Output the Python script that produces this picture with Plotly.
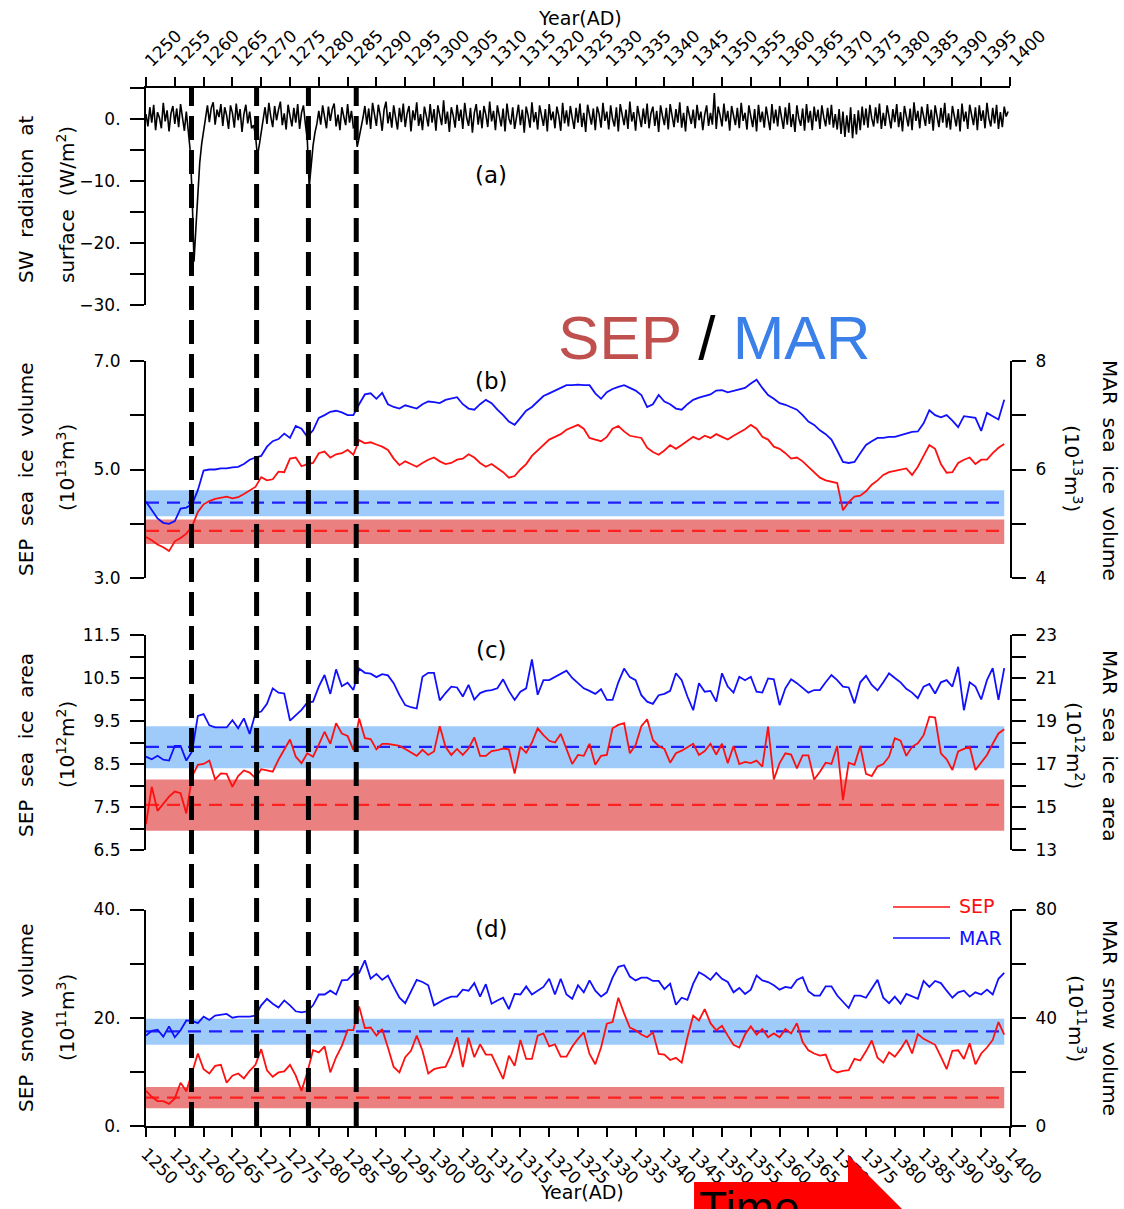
import plotly.graph_objects as go

# ---------------- data ----------------
YEARS = list(range(1250, 1400))

# (a) surface SW radiation anomaly, 3 samples per year starting 1250.0
SW = [
    0.8, -1.2, 1.9, -0.6, 2.3, -1.8, 1.1, 0.2, -1.5, 2.6, -0.4, 1.4, -2.0, 0.9, 2.1,
    -0.8, 1.7, -1.3, 2.4, 0.1, -1.9, 1.2, -2.5, -5.0, -12.0, -23.0, -17.5, -11.5, -7.0, -4.0,
    -1.8, 0.6, 2.2, -0.5, 1.8, 2.7, -0.9, 1.5, 0.3, 2.4, -1.1, 1.9, 0.6, -1.6, 2.2,
    1.0, -1.4, 2.5, -0.2, 1.6, -2.1, 0.8, 2.3, -0.7, 1.2, -1.5, -1.0, -2.5, -6.0, -4.2,
    -2.2, -0.4, 1.9, -0.8, 2.6, 0.4, -1.3, 2.1, -0.2, 1.5, 2.8, -1.0, 0.9, -1.7, 2.3,
    0.5, -1.2, 1.8, -0.6, 2.4, -1.6, 1.0, 2.2, -0.8, -3.2, -11.0, -7.2, -4.3, -2.2, -0.8,
    1.3, -0.9, 2.2, 0.1, -1.5, 2.0, -0.3, 1.6, 2.5, -1.2, 0.7, -1.8, 1.9, 0.4, -1.0,
    2.4, -0.6, 1.3, -1.4, -1.2, -4.5, -3.0, -1.6, 0.2, 2.1, -0.9, 1.7, -1.6, 2.6, 0.3,
    -1.1, 2.3, 0.6, -1.9, 1.5, 2.8, -0.7, 1.1, -1.4, 2.2, 0.2, -1.7, 1.8, -0.5, 2.5,
    -1.3, 0.9, 2.1, -2.0, 1.4, -0.2, 2.7, -1.1, 0.8, -1.8, 2.0, 0.5, -1.2, 2.4, -0.6,
    1.6, -1.9, 2.2, 0.3, -1.0, 3.0, -0.8, 1.2, -2.1, 1.9, 0.6, -1.4, 2.3, -0.3, 1.5,
    -1.6, 2.6, 0.2, -1.1, 1.8, -2.2, 1.0, 2.4, -0.9, 1.4, -1.5, 2.1, 0.7, -1.3, 2.8,
    -0.4, 1.3, -1.8, 2.2, 0.4, -1.2, 1.7, -2.0, 2.5, 0.1, -0.9, 1.9, -1.6, 0.8, 2.3,
    -1.0, 1.5, -2.2, 2.0, 0.6, -1.4, 2.7, -0.5, 1.1, -1.7, 2.2, 0.3, -1.1, 1.6, -2.0,
    2.4, -0.2, 1.2, -1.5, 2.0, 0.5, -1.9, 2.6, -0.7, 1.4, -1.2, 2.1, 0.2, -1.6, 1.8,
    -0.6, 2.5, -1.3, 1.0, -2.1, 2.3, 0.4, -0.9, 1.7, -1.8, 2.0, 0.8, -1.4, 2.6, -0.3,
    1.2, -1.7, 2.2, 0.0, -1.2, 1.9, -2.0, 2.4, 0.6, -1.0, 1.5, -1.6, 2.8, -0.4, 1.1,
    -1.9, 2.1, 0.3, -1.3, 1.7, -0.8, 2.5, -1.5, 0.9, 2.0, -1.1, 1.3, -2.1, 2.2, 0.5,
    -1.0, 1.8, -1.7, 2.4, 0.2, -1.3, 1.6, -0.6, 2.7, -1.4, 1.0, -2.0, 2.1, 0.4, -0.8,
    1.5, -1.5, 2.3, -0.2, 1.2, -1.8, 0.7, 2.2, -1.1, 1.0, -0.9, 4.2, -1.6, 2.0, 0.6,
    -1.2, 2.5, -0.4, 1.3, -1.9, 2.1, 0.3, -1.0, 1.8, -1.5, 2.6, -0.3, 1.0, -1.7, 2.2,
    0.5, -1.3, 1.6, -2.0, 2.3, -0.5, 1.2, -1.4, 2.0, 0.2, -1.8, 2.4, -0.7, 1.5, -1.2,
    2.1, 0.4, -1.6, 1.9, -0.9, 2.6, -1.3, 0.8, -2.1, 2.2, 0.1, -1.1, 1.7, -1.9, 2.4,
    -0.6, 1.3, -1.8, 2.0, -0.4, 1.5, -1.6, 2.2, 0.3, -1.2, 1.8, -0.9, 2.3, -1.4, 0.8,
    -1.7, 1.6, -2.4, 1.2, -2.9, 0.6, -2.2, 1.9, -3.1, 0.8, -2.5, 1.4, -1.8, 2.0, -1.0,
    1.7, -1.4, 2.3, 0.1, -1.2, 1.9, -0.7, 2.5, -1.6, 1.0, -1.1, 2.2, 0.4, -1.5, 1.6,
    -0.5, 2.4, -1.3, 1.1, -2.0, 2.1, 0.6, -1.2, 1.7, -1.8, 2.7, -0.3, 1.3, -1.5, 2.0,
    0.3, -1.1, 2.4, -0.8, 1.5, -1.9, 2.2, 0.5, -1.3, 1.8, -0.6, 2.6, -1.4, 0.9, -1.7,
    2.1, 0.2, -1.2, 1.6, -2.0, 2.5, -0.4, 1.2, -1.6, 2.3, 0.7, -1.0, 1.9, -1.8, 2.2,
    -0.3, 1.4, -1.5, 2.6, 0.1, -1.2, 1.8, -0.7, 2.3, -1.6, 1.1, -1.3, 2.0, 0.4, 1.2,
]
SW_PER_YEAR = 3
SW_X = [1250 + i / SW_PER_YEAR for i in range(len(SW))]

# (b) sea ice volume: SEP on left axis (1e13 m3), MAR on right axis (1e13 m3)
SEP_VOL = [
    3.76, 3.70, 3.62, 3.57, 3.50, 3.68, 3.74, 3.82, 3.95, 4.22,
    4.36, 4.42, 4.46, 4.48, 4.50, 4.47, 4.49, 4.55, 4.62, 4.68,
    4.86, 4.80, 4.82, 4.96, 4.95, 5.20, 5.22, 5.06, 5.10, 5.12,
    5.30, 5.33, 5.22, 5.28, 5.30, 5.36, 5.27, 5.54, 5.48, 5.50,
    5.46, 5.42, 5.36, 5.20, 5.08, 5.15, 5.10, 5.05, 5.12, 5.18,
    5.22, 5.15, 5.10, 5.12, 5.18, 5.20, 5.28, 5.22, 5.12, 5.05,
    5.10, 5.02, 4.95, 4.85, 4.88, 5.00, 5.10, 5.25, 5.35, 5.45,
    5.55, 5.60, 5.65, 5.73, 5.78, 5.82, 5.75, 5.58, 5.55, 5.52,
    5.60, 5.75, 5.80, 5.70, 5.62, 5.60, 5.58, 5.40, 5.32, 5.27,
    5.35, 5.45, 5.38, 5.45, 5.52, 5.60, 5.55, 5.62, 5.58, 5.65,
    5.60, 5.55, 5.62, 5.68, 5.74, 5.82, 5.75, 5.60, 5.55, 5.42,
    5.38, 5.30, 5.20, 5.22, 5.15, 5.05, 4.95, 4.85, 4.80, 4.78,
    4.75, 4.25, 4.40, 4.50, 4.52, 4.60, 4.72, 4.80, 4.90, 4.95,
    4.97, 4.99, 5.02, 4.90, 5.05, 5.25, 5.45, 5.38, 5.10, 4.94,
    4.95, 5.12, 5.18, 5.22, 5.10, 5.18, 5.18, 5.30, 5.40, 5.47,
]
MAR_VOL = [
    5.41, 5.25, 5.10, 5.02, 5.00, 5.05, 5.28, 5.30, 5.36, 5.62,
    5.98, 6.00, 6.00, 6.02, 6.02, 6.04, 6.05, 6.10, 6.18, 6.22,
    6.25, 6.42, 6.52, 6.56, 6.66, 6.58, 6.80, 6.75, 6.60, 6.72,
    6.95, 7.00, 7.06, 7.08, 7.05, 7.00, 7.00, 7.20, 7.38, 7.40,
    7.30, 7.41, 7.20, 7.15, 7.12, 7.18, 7.15, 7.12, 7.20, 7.25,
    7.24, 7.22, 7.28, 7.30, 7.33, 7.20, 7.12, 7.10, 7.20, 7.28,
    7.22, 7.10, 7.00, 6.88, 6.82, 6.95, 7.08, 7.15, 7.25, 7.35,
    7.40, 7.45, 7.50, 7.55, 7.55, 7.56, 7.55, 7.55, 7.40, 7.30,
    7.42, 7.48, 7.52, 7.55, 7.50, 7.45, 7.37, 7.15, 7.20, 7.37,
    7.25, 7.20, 7.12, 7.10, 7.20, 7.28, 7.32, 7.35, 7.38, 7.45,
    7.46, 7.42, 7.45, 7.48, 7.50, 7.58, 7.65, 7.50, 7.37, 7.30,
    7.22, 7.19, 7.15, 7.10, 7.00, 6.88, 6.82, 6.72, 6.65, 6.55,
    6.35, 6.14, 6.12, 6.14, 6.30, 6.45, 6.52, 6.58, 6.58, 6.60,
    6.60, 6.63, 6.66, 6.69, 6.70, 6.85, 7.09, 7.00, 6.96, 7.00,
    6.90, 6.78, 6.98, 6.97, 6.95, 6.71, 7.04, 6.98, 6.92, 7.28,
]

# (c) sea ice area: SEP left (1e12 m2), MAR right (1e12 m2)
SEP_AREA = [
    7.10, 7.97, 7.41, 7.58, 7.74, 7.86, 7.82, 7.35, 8.21, 8.48,
    8.50, 8.58, 8.14, 8.28, 8.27, 7.97, 8.22, 8.35, 8.30, 8.17,
    8.38, 8.35, 8.32, 8.60, 8.85, 9.07, 8.67, 8.52, 8.75, 8.67,
    8.95, 9.25, 8.97, 9.45, 9.21, 9.15, 8.83, 9.56, 9.10, 9.08,
    8.84, 8.97, 8.97, 8.95, 8.92, 8.85, 8.76, 8.69, 8.83, 8.71,
    8.79, 9.38, 8.90, 8.71, 8.85, 8.71, 8.86, 9.12, 8.69, 8.69,
    8.80, 8.82, 8.86, 8.84, 8.28, 8.90, 8.76, 9.00, 9.33, 9.17,
    9.04, 9.00, 9.20, 8.85, 8.50, 8.71, 8.69, 8.97, 8.48, 8.69,
    8.71, 9.33, 9.41, 9.45, 8.75, 8.94, 9.38, 9.54, 9.06, 8.92,
    8.85, 8.53, 8.75, 8.81, 8.90, 8.97, 8.71, 8.80, 8.97, 8.72,
    8.97, 8.52, 8.92, 8.50, 8.55, 8.52, 8.58, 8.44, 9.37, 8.14,
    8.52, 8.75, 8.72, 8.40, 8.70, 8.70, 8.14, 8.32, 8.53, 8.50,
    8.92, 7.66, 8.53, 8.48, 8.92, 8.27, 8.22, 8.44, 8.50, 8.67,
    9.10, 9.04, 8.69, 8.90, 8.98, 9.17, 9.60, 9.58, 8.75, 8.61,
    8.36, 8.79, 8.85, 8.90, 8.36, 8.55, 8.71, 8.97, 9.21, 9.31,
]
MAR_AREA = [
    17.34, 17.22, 17.38, 17.20, 17.16, 17.84, 17.84, 17.16, 17.58, 19.24,
    19.32, 18.80, 18.70, 18.70, 18.70, 19.04, 18.66, 19.12, 18.40, 19.36,
    19.44, 19.80, 20.52, 20.32, 20.28, 19.02, 19.28, 19.52, 19.86, 19.90,
    20.60, 21.14, 20.26, 21.40, 20.62, 20.78, 20.44, 21.44, 21.24, 21.20,
    21.04, 21.18, 21.12, 20.76, 20.20, 19.74, 19.64, 19.58, 21.06, 21.24,
    21.24, 19.96, 20.30, 20.60, 20.56, 20.14, 20.68, 20.00, 20.30, 20.40,
    20.44, 20.52, 20.94, 20.40, 19.98, 20.36, 20.52, 21.86, 20.22, 20.90,
    20.90, 21.06, 21.20, 21.34, 21.00, 20.76, 20.52, 20.40, 20.26, 20.48,
    19.98, 19.98, 20.80, 21.44, 21.04, 20.90, 20.20, 19.90, 19.80, 20.20,
    20.26, 20.40, 21.22, 20.90, 20.14, 19.50, 20.76, 20.36, 20.40, 19.90,
    21.22, 20.60, 20.32, 21.06, 20.90, 21.06, 20.36, 20.32, 20.98, 20.94,
    19.74, 20.52, 20.94, 20.76, 20.56, 20.32, 20.44, 20.44, 20.80, 21.14,
    20.90, 20.60, 20.56, 19.82, 20.80, 21.10, 20.68, 20.42, 20.80, 21.22,
    21.00, 20.80, 20.50, 20.32, 20.06, 20.60, 20.72, 20.28, 20.80, 20.90,
    20.60, 21.52, 19.50, 20.80, 20.60, 20.00, 20.90, 21.46, 19.98, 21.46,
]

# (d) snow volume: SEP left (1e11 m3), MAR right (1e11 m3)
SEP_SNOW = [
    6.5, 5.4, 4.6, 4.6, 4.1, 5.1, 8.0, 6.4, 9.9, 13.4,
    10.5, 9.7, 11.1, 11.3, 8.0, 9.3, 9.7, 8.8, 10.2, 11.3,
    14.2, 10.3, 9.1, 9.9, 10.1, 11.3, 9.3, 6.5, 9.9, 14.0,
    13.6, 14.7, 9.9, 12.7, 14.8, 17.7, 17.7, 22.1, 18.1, 18.2,
    16.7, 17.9, 14.5, 10.9, 9.9, 12.7, 13.9, 16.7, 13.9, 9.7,
    10.5, 10.8, 10.9, 13.2, 16.4, 10.9, 16.3, 12.7, 15.1, 13.2,
    13.2, 10.8, 8.7, 13.0, 11.1, 15.9, 12.4, 12.4, 16.7, 17.1,
    14.7, 15.1, 12.8, 12.8, 14.7, 16.1, 17.3, 13.3, 11.4, 14.5,
    18.9, 19.2, 23.7, 20.8, 18.2, 17.7, 16.9, 16.4, 17.3, 13.3,
    13.2, 12.2, 12.6, 11.7, 16.4, 20.4, 19.5, 21.6, 19.0, 17.7,
    18.5, 16.7, 15.0, 14.5, 16.9, 18.4, 16.9, 17.9, 16.4, 17.1,
    16.4, 17.9, 17.1, 19.0, 15.5, 14.0, 13.4, 13.0, 13.2, 10.5,
    9.9, 10.2, 10.3, 12.4, 12.1, 13.8, 15.8, 12.6, 11.7, 13.6,
    12.8, 14.2, 15.9, 13.4, 17.0, 16.1, 15.6, 15.0, 12.8, 10.5,
    13.9, 14.0, 12.4, 15.3, 11.4, 13.4, 14.5, 15.9, 19.2, 16.9,
]
MAR_SNOW = [
    33.4, 35.2, 35.6, 33.0, 36.8, 32.8, 35.4, 39.0, 38.8, 38.0,
    40.4, 39.2, 40.8, 41.2, 41.4, 40.0, 40.4, 40.4, 40.4, 40.8,
    44.6, 47.0, 45.2, 43.8, 46.4, 44.6, 42.4, 42.0, 42.4, 44.6,
    48.6, 48.6, 50.0, 48.6, 53.8, 54.0, 56.2, 56.6, 61.2, 54.4,
    56.2, 54.0, 55.6, 51.4, 47.4, 45.4, 50.0, 54.0, 53.2, 52.0,
    44.6, 45.8, 47.0, 47.8, 47.8, 50.4, 50.0, 52.8, 47.8, 52.4,
    45.2, 46.4, 47.4, 43.2, 48.8, 48.6, 51.6, 48.6, 50.0, 51.4,
    54.4, 48.6, 54.4, 48.6, 47.0, 52.0, 49.4, 53.8, 50.0, 47.8,
    49.4, 54.8, 58.8, 59.4, 55.2, 53.8, 54.8, 54.8, 53.6, 53.6,
    50.6, 52.6, 44.8, 47.4, 46.6, 52.6, 56.8, 55.6, 54.0, 56.6,
    54.4, 53.2, 49.4, 51.0, 48.8, 50.4, 55.6, 53.8, 53.2, 52.0,
    50.4, 51.4, 51.0, 54.0, 55.0, 49.8, 48.2, 48.2, 51.6, 51.6,
    48.2, 45.8, 43.6, 48.2, 48.2, 47.4, 50.6, 54.0, 47.4, 45.4,
    47.8, 45.2, 48.8, 47.8, 47.0, 53.6, 51.4, 53.6, 52.8, 50.0,
    47.4, 49.4, 50.0, 47.8, 49.4, 48.6, 50.4, 48.6, 54.4, 56.6,
]

# reference (control) mean and spread: (axis, mean, low, high, colour kind)
BANDS = [
    ("y2", 3.87, 3.63, 4.08, "sep"),
    ("y3", 5.39, 5.14, 5.62, "mar"),
    ("y4", 7.55, 6.95, 8.14, "sep"),
    ("y5", 17.8, 16.8, 18.76, "mar"),
    ("y6", 5.25, 3.3, 7.2, "sep"),
    ("y7", 35.0, 30.0, 39.6, "mar"),
]

ERUPTIONS = [1257.9, 1269.2, 1278.2, 1286.5]
XTICKS = list(range(1250, 1401, 5))

# ---------------- style ----------------
RED = "#ff1010"
BLUE = "#1010ff"
BAND_COL = {"sep": "#ea8080", "mar": "#9ecbfa"}
LINE_COL = {"sep": "#ff2020", "mar": "#2020ff"}
FONT = "DejaVu Sans"

W, H = 1124, 1209
L, R, T, B = 146, 114, 88, 83
PW, PH = W - L - R, H - T - B


def PX(px):
    return (px - L) / PW


def PY(py):
    return (H - B - py) / PH


fig = go.Figure()

# panel (a)
fig.add_trace(go.Scatter(x=SW_X, y=SW, mode="lines", line=dict(color="black", width=1.6),
                         xaxis="x", yaxis="y", showlegend=False, hoverinfo="skip"))
fig.add_trace(go.Scatter(x=[1250], y=[0], mode="markers", marker=dict(opacity=0),
                         xaxis="x2", yaxis="y", showlegend=False, hoverinfo="skip"))

# panels b, c, d
pairs = [("y2", SEP_VOL, "y3", MAR_VOL), ("y4", SEP_AREA, "y5", MAR_AREA), ("y6", SEP_SNOW, "y7", MAR_SNOW)]
for ly, sep, ry, mar in pairs:
    fig.add_trace(go.Scatter(x=YEARS, y=sep, mode="lines", line=dict(color=RED, width=1.8),
                             xaxis="x", yaxis=ly, showlegend=False, hoverinfo="skip"))
    fig.add_trace(go.Scatter(x=YEARS, y=mar, mode="lines", line=dict(color=BLUE, width=1.8),
                             xaxis="x", yaxis=ry, showlegend=False, hoverinfo="skip"))

shapes = []
for ax, mean, lo, hi, kind in BANDS:
    shapes.append(dict(type="rect", xref="x", yref=ax, x0=YEARS[0], x1=YEARS[-1], y0=lo, y1=hi,
                       fillcolor=BAND_COL[kind], line=dict(width=0), layer="below"))
    shapes.append(dict(type="line", xref="x", yref=ax, x0=YEARS[0], x1=YEARS[-1], y0=mean, y1=mean,
                       line=dict(color=LINE_COL[kind], width=2.2, dash="13px,8px"), layer="below"))
for e in ERUPTIONS:
    shapes.append(dict(type="line", xref="x", yref="paper", x0=e, x1=e, y0=0, y1=1,
                       line=dict(color="black", width=5, dash="24px,10px"), layer="above"))

# legend in panel (d)
shapes.append(dict(type="line", xref="paper", yref="paper", x0=PX(893), x1=PX(950), y0=PY(907), y1=PY(907),
                   line=dict(color=RED, width=1.5)))
shapes.append(dict(type="line", xref="paper", yref="paper", x0=PX(893), x1=PX(950), y0=PY(938), y1=PY(938),
                   line=dict(color=BLUE, width=1.5)))

# red "Time" arrow at the bottom
arrow = [(694, 1182), (848, 1182), (848, 1155), (912, 1219), (694, 1219)]
path = "M " + " L ".join(f"{PX(a):.4f} {PY(b):.4f}" for a, b in arrow) + " Z"
shapes.append(dict(type="path", xref="paper", yref="paper", path=path,
                   fillcolor="#ff0000", line=dict(width=0), layer="above"))

ann = []


def text(x, y, s, size, color="black", angle=0, xanchor="center", yanchor="middle", family=FONT):
    ann.append(dict(x=PX(x), y=PY(y), xref="paper", yref="paper", text=s, showarrow=False,
                    textangle=angle, xanchor=xanchor, yanchor=yanchor,
                    font=dict(family=family, size=size, color=color)))


sp = "\u00a0\u00a0"
text(580, 18, "Year(AD)", 19)
text(582, 1192, "Year(AD)", 19)
text(491, 175, "(a)", 23)
text(491, 381, "(b)", 23)
text(491, 650, "(c)", 23)
text(491, 929, "(d)", 23)

text(26, 200, f"SW{sp}radiation{sp}at", 20, angle=-90)
text(66, 205, f"surface{sp}(W/m<sup>2</sup>)", 20, angle=-90)
text(26, 470, f"SEP{sp}sea{sp}ice{sp}volume", 20, angle=-90)
text(66, 468, "(10<sup>13</sup>m<sup>3</sup>)", 20, angle=-90)
text(26, 745, f"SEP{sp}sea{sp}ice{sp}area", 20, angle=-90)
text(66, 745, "(10<sup>12</sup>m<sup>2</sup>)", 20, angle=-90)
text(26, 1018, f"SEP{sp}snow{sp}volume", 20, angle=-90)
text(66, 1018, "(10<sup>11</sup>m<sup>3</sup>)", 20, angle=-90)

text(1110, 470, f"MAR{sp}sea{sp}ice{sp}volume", 20, angle=90)
text(1073, 468, "(10<sup>13</sup>m<sup>3</sup>)", 20, angle=90)
text(1110, 745, f"MAR{sp}sea{sp}ice{sp}area", 20, angle=90)
text(1075, 745, "(10<sup>12</sup>m<sup>2</sup>)", 20, angle=90)
text(1110, 1018, f"MAR{sp}snow{sp}volume", 20, angle=90)
text(1077, 1018, "(10<sup>11</sup>m<sup>3</sup>)", 20, angle=90)

text(957, 906, "SEP", 19, color=RED, xanchor="left")
text(957, 938, "MAR", 19, color=BLUE, xanchor="left")

text(714, 337, "<span style='color:#c0504d'>SEP</span> / <span style='color:#3a80e8'>MAR</span>",
     62, family="Liberation Sans")
text(697, 1180, "Time", 46, xanchor="left", yanchor="top", family="Liberation Sans")

# ---------------- axes ----------------
tick_font = dict(family=FONT, size=17, color="black")
common_y = dict(showgrid=False, zeroline=False, showline=True, linecolor="black", linewidth=2,
                ticks="outside", ticklen=14, tickwidth=2, tickcolor="black", tickfont=tick_font,
                tickmode="array", automargin=False, fixedrange=True, ticklabelstandoff=6)

dom_a = [PY(305), 1.0]
dom_b = [PY(578.3), PY(360.7)]
dom_c = [PY(850), PY(635)]
dom_d = [0.0, PY(909.5)]


def labels(vals, shown, fmt):
    return [fmt(v) if v in shown else "" for v in vals]


def dotted(v):
    return f"{v:.0f}.".replace("-", "\u2212")


ya_vals = [-30, -25, -20, -15, -10, -5, 0, 5]
yb_vals = [3, 4, 5, 6, 7]
yb2_vals = [4, 5, 6, 7, 8]
yc_vals = [6.5, 7.0, 7.5, 8.0, 8.5, 9.0, 9.5, 10.0, 10.5, 11.0, 11.5]
yc2_vals = list(range(13, 24))
yd_vals = [0, 10, 20, 30, 40]
yd2_vals = [0, 20, 40, 60, 80]

fig.update_layout(
    width=W, height=H, margin=dict(l=L, r=R, t=T, b=B, pad=0),
    paper_bgcolor="white", plot_bgcolor="rgba(0,0,0,0)",
    showlegend=False, shapes=shapes, annotations=ann,
    xaxis=dict(domain=[0, 1], range=[1250, 1400], anchor="y6", side="bottom",
               showgrid=False, zeroline=False, showline=True, linecolor="black", linewidth=2,
               ticks="outside", ticklen=9, tickwidth=2, tickcolor="black",
               tickmode="array", tickvals=XTICKS, ticktext=[str(v) for v in XTICKS],
               tickangle=45, tickfont=tick_font, automargin=False, fixedrange=True),
    xaxis2=dict(domain=[0, 1], range=[1250, 1400], anchor="y", side="top", overlaying="x",
                showgrid=False, zeroline=False, showline=True, linecolor="black", linewidth=2,
                ticks="outside", ticklen=9, tickwidth=2, tickcolor="black",
                tickmode="array", tickvals=XTICKS, ticktext=[str(v) for v in XTICKS],
                tickangle=-45, tickfont=tick_font, automargin=False, fixedrange=True),
    yaxis=dict(common_y, domain=dom_a, range=[-30, 5], anchor="x", tickvals=ya_vals,
               ticktext=labels(ya_vals, [-30, -20, -10, 0], dotted)),
    yaxis2=dict(common_y, domain=dom_b, range=[3, 7], anchor="x", tickvals=yb_vals,
                ticktext=labels(yb_vals, [3, 5, 7], lambda v: f"{v:.1f}")),
    yaxis3=dict(common_y, domain=dom_b, range=[4, 8], anchor="x", overlaying="y2", side="right",
                tickvals=yb2_vals, ticktext=labels(yb2_vals, [4, 6, 8], lambda v: f"{v}")),
    yaxis4=dict(common_y, domain=dom_c, range=[6.5, 11.5], anchor="x", tickvals=yc_vals,
                ticktext=labels(yc_vals, [6.5, 7.5, 8.5, 9.5, 10.5, 11.5], lambda v: f"{v:.1f}")),
    yaxis5=dict(common_y, domain=dom_c, range=[13, 23], anchor="x", overlaying="y4", side="right",
                tickvals=yc2_vals, ticktext=labels(yc2_vals, [13, 15, 17, 19, 21, 23], lambda v: f"{v}")),
    yaxis6=dict(common_y, domain=dom_d, range=[0, 40], anchor="x", tickvals=yd_vals,
                ticktext=labels(yd_vals, [0, 20, 40], dotted)),
    yaxis7=dict(common_y, domain=dom_d, range=[0, 80], anchor="x", overlaying="y6", side="right",
                tickvals=yd2_vals, ticktext=labels(yd2_vals, [0, 40, 80], lambda v: f"{v}")),
)

fig.write_html("out.html", config={"displayModeBar": False},
               post_script="document.body.style.margin='0px';")
